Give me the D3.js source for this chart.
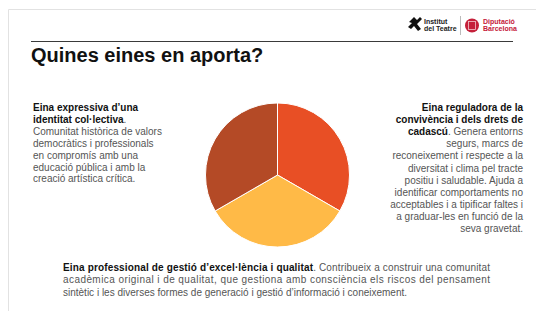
<!DOCTYPE html>
<html>
<head>
<meta charset="utf-8">
<script src="https://cdn.jsdelivr.net/npm/d3@7"></script>
<style>
body{margin:0;background:#fff;}
svg text{font-family:"Liberation Sans",Arial,sans-serif;}
</style>
</head>
<body>
<svg id="slide" width="536" height="311"></svg>
<script>
// slices, clockwise from 12 o'clock
var tools = ["Eina reguladora", "Eina professional", "Eina expressiva"];
var weights = [1, 1, 1];
var sliceColors = ["#e84f25", "#ffba47", "#b44a26"];

var titleText = "Quines eines en aporta?";

// text blocks: [bold part, regular part] per line
var leftLines = [
	["Eina expressiva d’una", ""],
	["identitat col·lectiva", "."],
	["", "Comunitat històrica de valors"],
	["", "democràtics i professionals"],
	["", "en compromís amb una"],
	["", "educació pública i amb la"],
	["", "creació artística crítica."]
];
var rightLines = [
	["Eina reguladora de la", ""],
	["convivència i dels drets de", ""],
	["cadascú", ". Genera entorns"],
	["", "segurs, marcs de"],
	["", "reconeixement i  respecte a la"],
	["", "diversitat i clima pel tracte"],
	["", "positiu i saludable. Ajuda a"],
	["", "identificar comportaments no"],
	["", "acceptables i a tipificar faltes i"],
	["", "a graduar-les en funció de la"],
	["", "seva gravetat."]
];
var bottomLines = [
	["Eina professional de gestió d’excel·lència i qualitat", ". Contribueix a construir una comunitat"],
	["", "acadèmica original i de qualitat, que gestiona amb consciència els riscos del pensament"],
	["", "sintètic i les diverses formes de generació i gestió d’informació i coneixement."]
];

var svg = d3.select('#slide');

// slide frame
svg.append('path')
	.attr('d', 'M8.5,311 L8.5,9.5 L536,9.5')
	.attr('fill', 'none')
	.attr('stroke', '#e2e2e2');

// header rule
svg.append('line')
	.attr('x1', 31).attr('x2', 513)
	.attr('y1', 41.5).attr('y2', 41.5)
	.attr('stroke', '#3a3a3a');

// logos
var logo = svg.append('g');
logo.append('path')
	.attr('d', 'M409,22 L414,17 L417,20 L420,17 L422,19 L417,24 L421,29 L418,31 L414,26 L411,29 L408,27 L412,23 Z')
	.attr('fill', '#111');
logo.append('text').attr('x', 424).attr('y', 23.5)
	.attr('font-size', 7).attr('font-weight', 'bold').attr('fill', '#222').text('Institut');
logo.append('text').attr('x', 424).attr('y', 30.5)
	.attr('font-size', 7).attr('font-weight', 'bold').attr('fill', '#222').text('del Teatre');
logo.append('line')
	.attr('x1', 460.5).attr('x2', 460.5).attr('y1', 16).attr('y2', 35)
	.attr('stroke', '#bbb');
logo.append('circle').attr('cx', 472).attr('cy', 25.5).attr('r', 7).attr('fill', '#c5203a');
logo.append('rect').attr('x', 468.5).attr('y', 21.5).attr('width', 7).attr('height', 8)
	.attr('fill', 'none').attr('stroke', '#f3c6cc').attr('stroke-width', 0.8);
logo.append('text').attr('x', 483).attr('y', 23.5)
	.attr('font-size', 7).attr('font-weight', 'bold').attr('fill', '#c5203a').text('Diputació');
logo.append('text').attr('x', 483).attr('y', 30.5)
	.attr('font-size', 7).attr('font-weight', 'bold').attr('fill', '#c5203a').text('Barcelona');

// title
svg.append('text')
	.attr('x', 31).attr('y', 62)
	.attr('font-size', 20).attr('font-weight', 'bold').attr('fill', '#111')
	.text(titleText);

// pie
var pie = d3.pie().sort(null).value(function(d){ return d; });
var arc = d3.arc().innerRadius(0).outerRadius(72);
var color = d3.scaleOrdinal().domain(tools).range(sliceColors);

svg.append('g')
	.attr('transform', 'translate(277.5,175)')
	.selectAll('path')
	.data(pie(weights))
	.enter().append('path')
	.attr('d', arc)
	.attr('fill', function(d, i){ return color(tools[i]); })
	.attr('stroke', '#fff')
	.attr('stroke-width', 1);

// text blocks
function textBlock(lines, x, y0, lh, anchor, justifyWidth){
	lines.forEach(function(l, i){
		var t = svg.append('text')
			.attr('x', x).attr('y', y0 + i*lh)
			.attr('font-size', 10)
			.attr('text-anchor', anchor);
		if(l[0]){ t.append('tspan').attr('font-weight', 'bold').attr('fill', '#111').text(l[0]); }
		if(l[1]){ t.append('tspan').attr('fill', '#555').text(l[1]); }
		if(justifyWidth && i < lines.length-1){
			t.attr('textLength', justifyWidth).attr('lengthAdjust', 'spacing');
		}
	});
}
textBlock(leftLines, 33, 111, 11.9, 'start');
textBlock(rightLines, 523, 111, 12.1, 'end');
textBlock(bottomLines, 63, 271, 12.4, 'start', 427);
</script>
</body>
</html>
